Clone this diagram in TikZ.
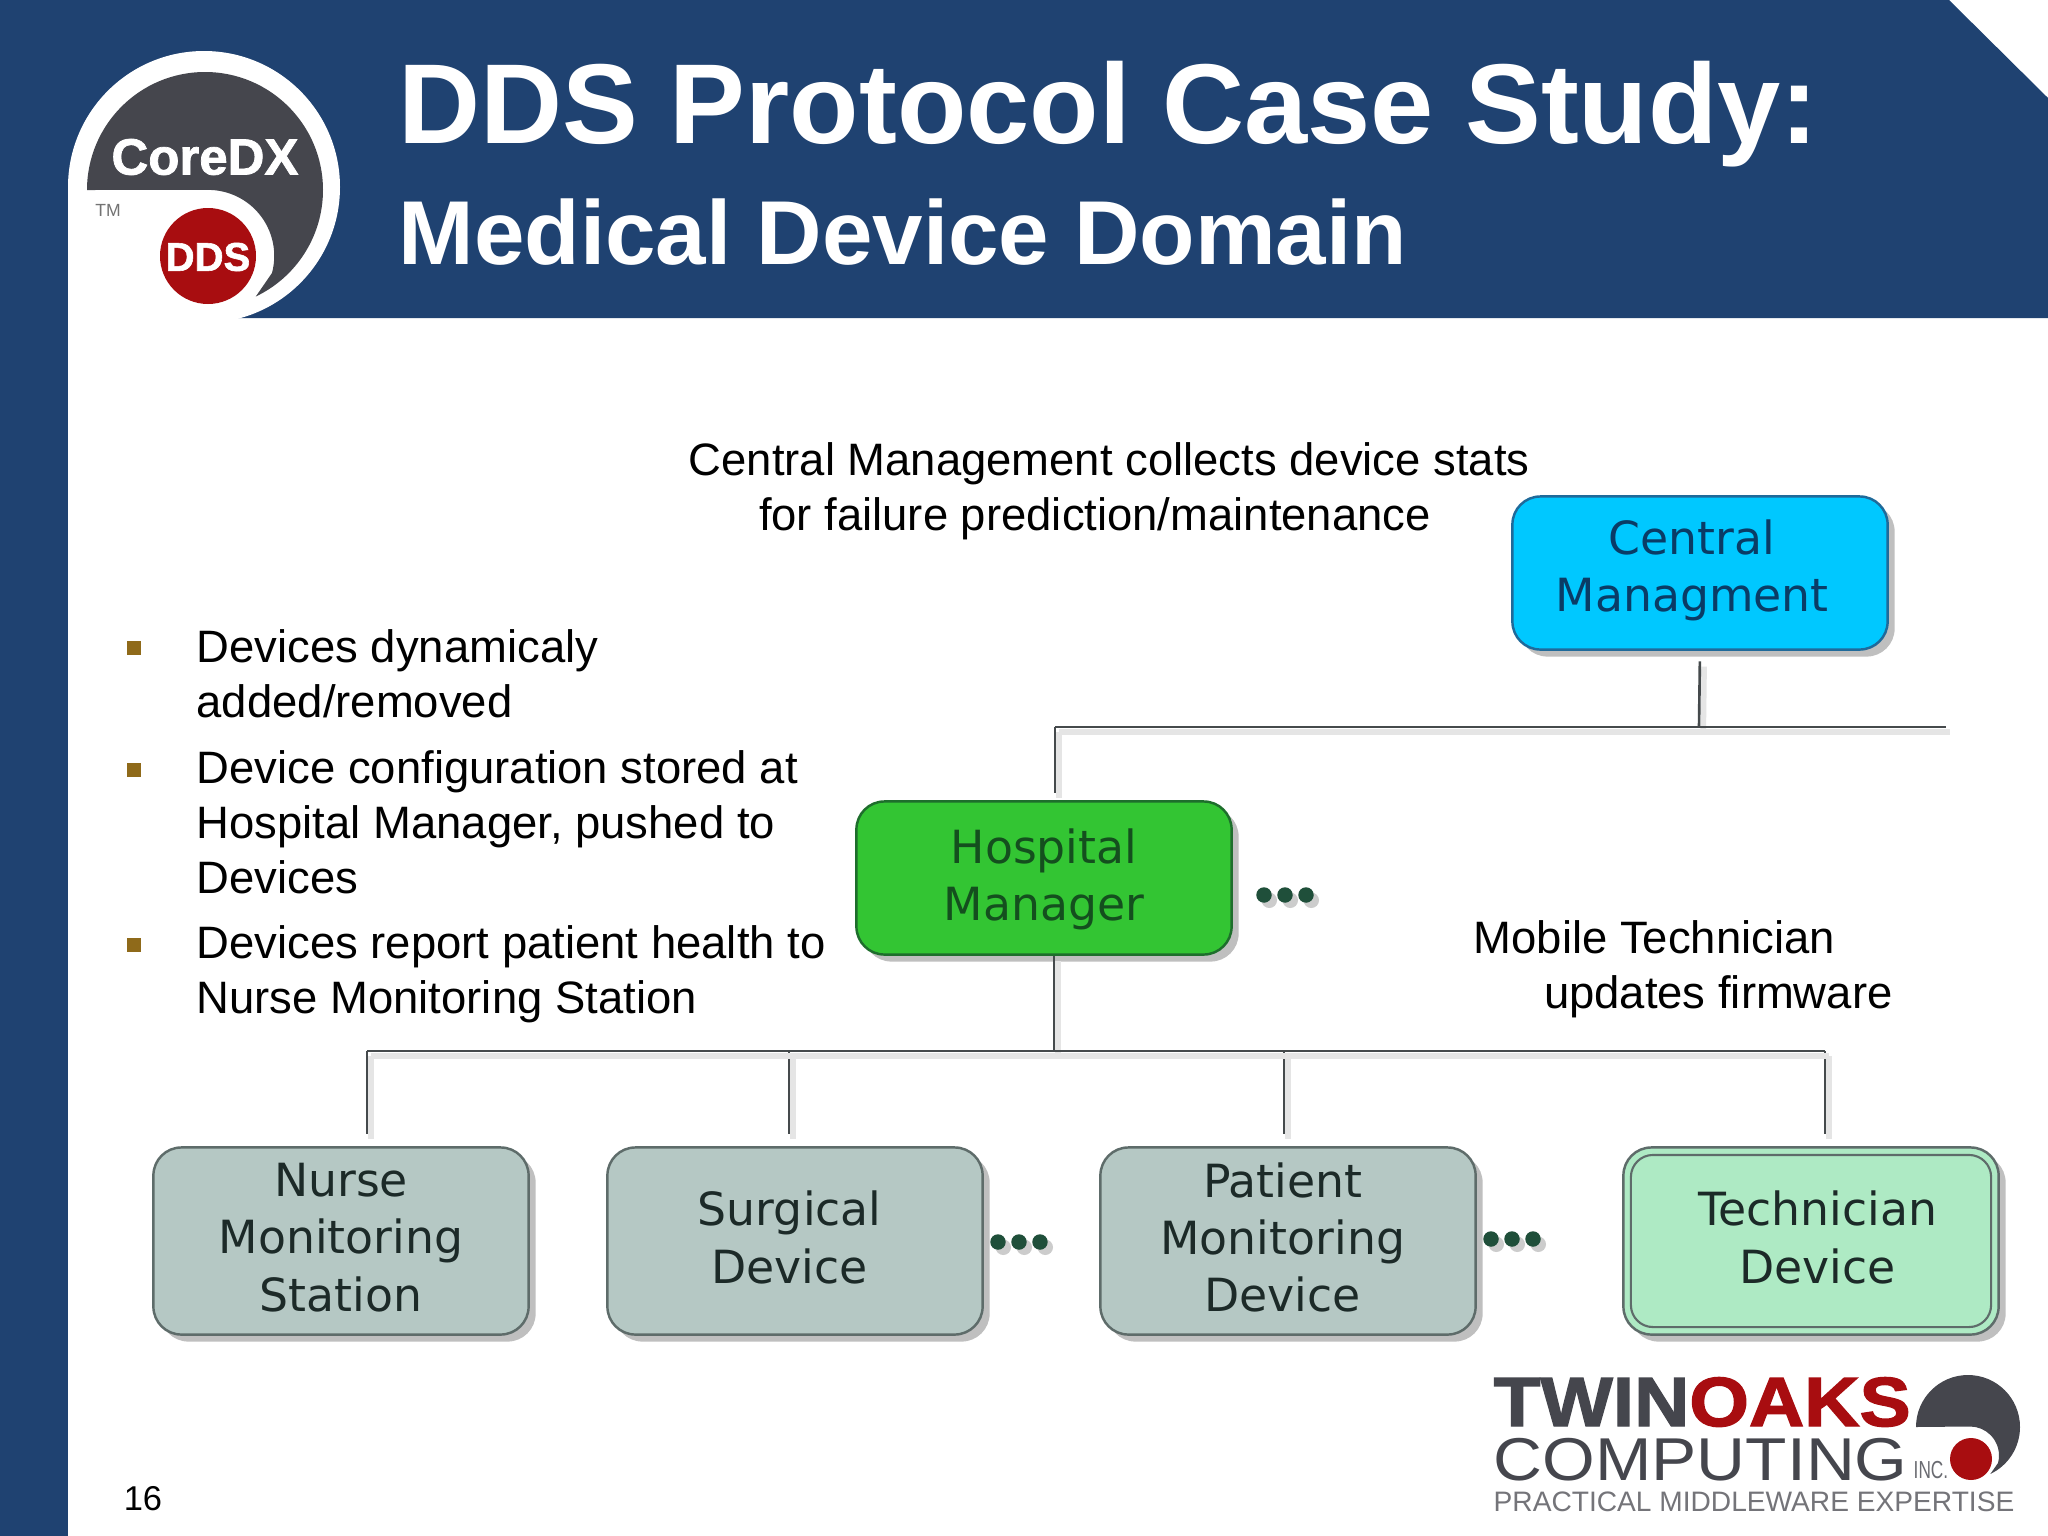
\documentclass[tikz,border=0pt]{standalone}
\usepackage{fontspec}
\setmainfont{Liberation Sans}
\newfontfamily\boxfont{DejaVu Sans}
\newfontfamily\heavyfont[FakeBold=1.5]{Liberation Sans Bold}
\newfontfamily\oaksfont[FakeStretch=1.1,FakeBold=2]{Liberation Sans Bold}
\newfontfamily\compfont[FakeStretch=1.12]{Liberation Sans}
\newfontfamily\incfont[FakeStretch=0.7]{Liberation Sans}
\usetikzlibrary{shadows}

\definecolor{slideblue}{HTML}{1F4271}
\definecolor{logodark}{HTML}{45464D}
\definecolor{logored}{HTML}{A80D10}
\definecolor{bulletbrown}{HTML}{8F6A1A}
\definecolor{dotgreen}{HTML}{1F4F3A}
\definecolor{wiregray}{HTML}{454A4C}
\definecolor{mgmtfill}{HTML}{00C8FF}
\definecolor{mgmtdraw}{HTML}{1F6A9A}
\definecolor{mgmttext}{HTML}{0A3C66}
\definecolor{hospfill}{HTML}{33C533}
\definecolor{hospdraw}{HTML}{1E6E2C}
\definecolor{hosptext}{HTML}{144F1E}
\definecolor{devfill}{HTML}{B5C8C4}
\definecolor{devdraw}{HTML}{5E6C6A}
\definecolor{devtext}{HTML}{1C2A28}
\definecolor{techfill}{HTML}{AEEAC4}

\tikzset{
	basebox/.style={rectangle, rounded corners=0.28cm, line width=0.7pt, minimum width=3.75cm, inner sep=0pt, align=center,
		font=\boxfont\fontsize{13}{16.3}\selectfont, drop shadow={shadow xshift=2pt, shadow yshift=-2pt, opacity=.25, fill=black}},
	mgmtbox/.style={basebox, minimum height=1.53cm, text depth=4.1pt, fill=mgmtfill, draw=mgmtdraw, text=mgmttext},
	hospbox/.style={basebox, minimum height=1.53cm, text depth=1.9pt, fill=hospfill, draw=hospdraw, text=hosptext},
	devbox/.style={basebox, minimum height=1.87cm, text depth=2.2pt, fill=devfill, draw=devdraw, text=devtext},
	techbox/.style={devbox, fill=techfill},
	wire/.style={draw=wiregray, line width=0.75pt, preaction={draw=black!10, line width=1.6pt, transform canvas={shift={(1.2pt,-1.5pt)}}}},
	bodytext/.style={anchor=west, align=left, inner sep=0pt, font=\fontsize{12.92}{15.65}\selectfont},
	bullet/.style={rectangle, fill=bulletbrown, inner sep=0pt, minimum size=3.9pt},
	dotmark/.style={circle, fill=dotgreen, inner sep=0pt, minimum size=4.4pt, drop shadow={shadow xshift=1.5pt, shadow yshift=-1.5pt, opacity=.2, fill=black}}
}

\begin{document}
\begin{tikzpicture}[x=0.01cm, y=-0.01cm]
	\useasboundingbox (0,0) rectangle (2048,1536);
	
	% Draw the slide frame
	\fill[white] (0,0) rectangle (2048,1536);
	\fill[slideblue] (0,0) rectangle (68,1536);
	\fill[slideblue] (0,0) -- (1949,0) -- (2048,98) -- (2048,318) -- (0,318) -- cycle;
	
	% Draw the CoreDX logo
	\fill[white] (204,187) circle[radius=136];
	\fill[white] (68,187) rectangle (204,330);
	\fill[logodark] (87,190) arc[start angle=180, end angle=424.5, radius=118] -- (272,273) arc[start angle=15, end angle=-90, radius=66] -- cycle;
	\fill[logored] (208,256) circle[radius=48];
	\node[text=white, font=\heavyfont\fontsize{14.5}{16}\selectfont] (coredx) at (205,157) {CoreDX};
	\node[text=white, font=\heavyfont\fontsize{11.4}{12}\selectfont] (ddslabel) at (208,257) {DDS};
	\node[text=black!55, font=\fontsize{5}{6}\selectfont] (tmlabel) at (108,210) {TM};
	
	% Draw the titles
	\node[anchor=base west, inner sep=0pt, text=white, font=\bfseries\fontsize{32.3}{36}\selectfont] (title) at (398,143) {DDS Protocol Case Study:};
	\node[anchor=base west, inner sep=0pt, text=white, font=\bfseries\fontsize{25.8}{30}\selectfont] (subtitle) at (398,264) {Medical Device Domain};
	
	% Draw the texts
	\node[bodytext] (stats) at (688,491) {Central Management collects device stats\\\hspace*{20pt}for failure prediction/maintenance};
	\node[bodytext] (mobile) at (1473,969) {Mobile Technician\\\hspace*{20pt}updates firmware};
	
	\node[bullet] (b1) at (134,648) {};
	\node[bullet] (b2) at (134,770) {};
	\node[bullet] (b3) at (134,945) {};
	\node[bodytext] (t1) at (196,674) {Devices dynamicaly\\added/removed};
	\node[bodytext] (t2) at (196,822) {Device configuration stored at\\Hospital Manager, pushed to\\Devices};
	\node[bodytext] (t3) at (196,974) {Devices report patient health to\\Nurse Monitoring Station};
	\node[inner sep=0pt, font=\fontsize{9.8}{12}\selectfont] (pagenum) at (143,1499) {16};
	
	% Draw the nodes
	\node[mgmtbox] (central) at (1700,573) {Central\hspace*{4.5pt}\\Managment\hspace*{4.5pt}};
	\node[hospbox] (hospital) at (1044,878) {Hospital\\Manager};
	\node[devbox] (nurse) at (341,1241) {Nurse\\Monitoring\\Station};
	\node[devbox] (surgical) at (795,1241) {Surgical\hspace*{3pt}\\Device\hspace*{3pt}};
	\node[devbox] (patient) at (1288,1241) {Patient\hspace*{3pt}\\\mbox{Monitoring\hspace{3pt}}\\Device\hspace*{3pt}};
	\node[techbox] (tech) at (1811,1241) {};
	\node[rectangle, draw=devdraw, rounded corners=0.22cm, line width=0.6pt, minimum width=3.6cm, minimum height=1.72cm, text depth=2.2pt, inner sep=0pt, align=center, text=devtext, font=\boxfont\fontsize{13}{16.3}\selectfont] (techinner) at (tech.center) {\hspace*{3.7pt}Technician\\\hspace*{3.7pt}Device};
	
	% Draw the stems
	\coordinate (upleft) at (1055,727);
	\coordinate (upmid) at (1699,727);
	\coordinate (upright) at (1946,727);
	\coordinate (lowmid) at (1054,1051);
	\coordinate (lownurse) at (367,1051);
	\coordinate (lowsurg) at (789,1051);
	\coordinate (lowpat) at (1284,1051);
	\coordinate (lowtech) at (1825,1051);
	
	\draw[wire, shorten <=3pt] (central.south) -- (upmid);
	\draw[wire, shorten >=2pt] (upleft) -- (upleft |- hospital.north);
	\draw[wire] (lowmid |- hospital.south) -- (lowmid);
	\draw[wire, shorten >=3.5pt] (lownurse) -- (lownurse |- nurse.north);
	\draw[wire, shorten >=3.5pt] (lowsurg) -- (lowsurg |- surgical.north);
	\draw[wire, shorten >=3.5pt] (lowpat) -- (lowpat |- patient.north);
	\draw[wire, shorten >=3.5pt] (lowtech) -- (lowtech |- tech.north);
	
	% Draw the bus lines
	\draw[wire] (upleft) -- (upright);
	\draw[wire] (lownurse) -- (lowtech);
	
	% Draw the dots
	\foreach \n/\x/\y in {h/1264/895, s/998/1242, p/1491/1239}{
		\foreach \i in {0,1,2}{
			\node[dotmark] (dot\n\i) at (\x+\i*21,\y) {};
		}
	}
	
	% Draw the Twin Oaks logo
	\node[anchor=base west, inner sep=0pt, font=\oaksfont\fontsize{19.8}{24}\selectfont] (twinoaks) at (1493,1426) {\textcolor{logodark}{TWIN}\textcolor{logored}{OAKS}};
	\node[anchor=base west, inner sep=0pt, text=logodark, font=\compfont\fontsize{17.2}{20}\selectfont] (computing) at (1493,1480) {COMPUTING};
	\node[anchor=base west, inner sep=0pt, text=logodark!80, font=\incfont\fontsize{7}{8}\selectfont] (inclabel) at (1913,1478) {INC.};
	\node[anchor=base west, inner sep=0pt, text=logodark!75, font=\fontsize{8}{10}\selectfont] (tagline) at (1493,1511) {PRACTICAL MIDDLEWARE EXPERTISE};
	\fill[logodark] (1916,1427) arc[start angle=180, end angle=424.5, radius=52] -- (1998,1463) arc[start angle=15, end angle=-90, radius=29] -- cycle;
	\fill[logored] (1971,1459) circle[radius=21];
\end{tikzpicture}
\end{document}
